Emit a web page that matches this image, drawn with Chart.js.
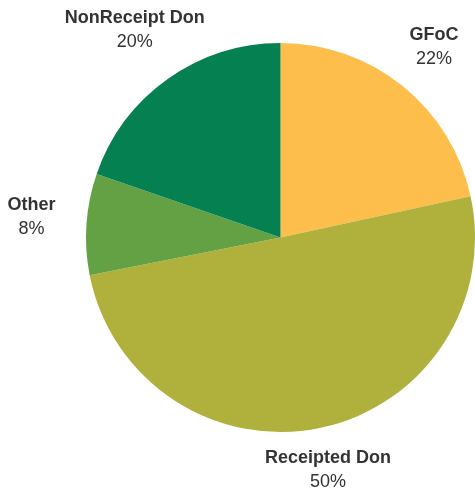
<!DOCTYPE html>
<html>
<head>
<meta charset="utf-8">
<script src="https://cdn.jsdelivr.net/npm/chart.js@4/dist/chart.umd.min.js"></script>
<style>
  html, body { margin: 0; padding: 0; background: #ffffff; }
  #wrap { width: 475px; height: 490px; }
</style>
</head>
<body>
<div id="wrap"><canvas id="donationPie" width="475" height="490"></canvas></div>
<script>
// Share of income by source (percent)
const sourceLabels = ['GFoC', 'Receipted Don', 'Other', 'NonReceipt Don'];
const sourceShares = [21.6, 50.3, 8.4, 19.7];
const sourceColors = ['#FDBE4B', '#B0B03C', '#64A044', '#058050'];

// Draws the name + percent labels outside each slice
const outsideLabels = {
    id: 'outsideLabels',
    afterDraw(chart, args, opts) {
        const ctx = chart.ctx;
        const meta = chart.getDatasetMeta(0);
        const values = chart.data.datasets[0].data;
        const total = values.reduce((a, b) => a + b, 0);
        ctx.save();
        ctx.fillStyle = '#333333';
        ctx.textAlign = 'center';
        ctx.textBaseline = 'middle';
        meta.data.forEach((arc, i) => {
            const p = arc.getProps(['x', 'y', 'startAngle', 'endAngle', 'outerRadius'], true);
            const mid = (p.startAngle + p.endAngle) / 2;
            const dist = p.outerRadius + opts.gap;
            const nudge = opts.nudges[i] || [0, 0];
            const x = p.x + Math.cos(mid) * dist + nudge[0];
            const y = p.y + Math.sin(mid) * dist + nudge[1];
            ctx.font = 'bold 18px "Liberation Sans", Arial, sans-serif';
            ctx.fillText(chart.data.labels[i], x, y - 12);
            ctx.font = '18px "Liberation Sans", Arial, sans-serif';
            ctx.fillText(Math.round(values[i] / total * 100) + '%', x, y + 12);
        });
        ctx.restore();
    }
};

const pieCtx = document.getElementById('donationPie').getContext('2d');
const donationPie = new Chart(pieCtx, {
    type: 'pie',
    data: {
        labels: sourceLabels,
        datasets: [{
            data: sourceShares,
            backgroundColor: sourceColors,
            borderWidth: 0
        }]
    },
    options: {
        responsive: false,
        animation: false,
        layout: {
            padding: { left: 86, right: 0, top: 43, bottom: 58 }
        },
        plugins: {
            legend: { display: false },
            tooltip: { enabled: false },
            outsideLabels: {
                gap: 50,
                nudges: [[0, 0], [-2, -7], [-5, -4], [-4, -8]]
            }
        }
    },
    plugins: [outsideLabels]
});
</script>
</body>
</html>
